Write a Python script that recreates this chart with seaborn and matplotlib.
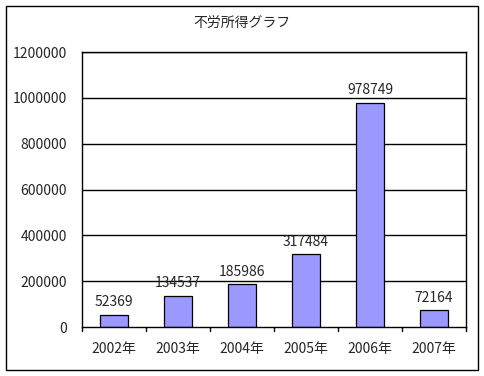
import matplotlib
matplotlib.use("Agg")
import matplotlib.pyplot as plt
import seaborn as sns
import pandas as pd
from matplotlib.patches import Rectangle
from matplotlib.lines import Line2D

years = ["2002年", "2003年", "2004年", "2005年", "2006年", "2007年"]
values = [52369, 134537, 185986, 317484, 978749, 72164]
yticks = [0, 200000, 400000, 600000, 800000, 1000000, 1200000]
title = "不労所得グラフ"

sns.set_theme(style="white")
plt.rcParams['font.family'] = ['Noto Sans CJK JP', 'DejaVu Sans']

df = pd.DataFrame({"year": years, "value": values})

fig = plt.figure(figsize=(4.84, 3.76), dpi=100)
ax = fig.add_axes([0.1694, 0.1303, 0.7934, 0.7314])

sns.barplot(data=df, x="year", y="value", ax=ax, color="#9999FF",
            saturation=1, width=0.43, edgecolor="black", linewidth=0.9)

ax.set_ylim(0, 1200000)
ax.set_yticks(yticks)
ax.set_yticklabels([str(v) for v in yticks], fontsize=10)
ax.set_xlim(-0.5, len(years) - 0.5)
ax.tick_params(axis="x", labelsize=10, length=0, pad=11)
ax.tick_params(axis="y", length=0, pad=11)
for y in yticks[1:]:
    ax.axhline(y, color="black", linewidth=1.0, zorder=0)
ax.set_xlabel("")
ax.set_ylabel("")
for s in ax.spines.values():
    s.set_color("black")
    s.set_linewidth(1.0)

trans = ax.get_xaxis_transform()
for i in range(len(years) + 1):
    ax.add_line(Line2D([i - 0.5, i - 0.5], [0, -0.015], transform=trans,
                       color="black", lw=1, clip_on=False))

for i, v in enumerate(values):
    ax.text(i, v + 25000, str(v), ha="center", va="bottom", fontsize=10)

fig.text(0.5, 0.94, title, ha="center", va="center", fontsize=10)

border = Rectangle((0.013, 0.016), 0.974, 0.968, transform=fig.transFigure,
                   fill=False, edgecolor="black", linewidth=1.0)
fig.patches.append(border)

fig.savefig("out.png", dpi=100)
